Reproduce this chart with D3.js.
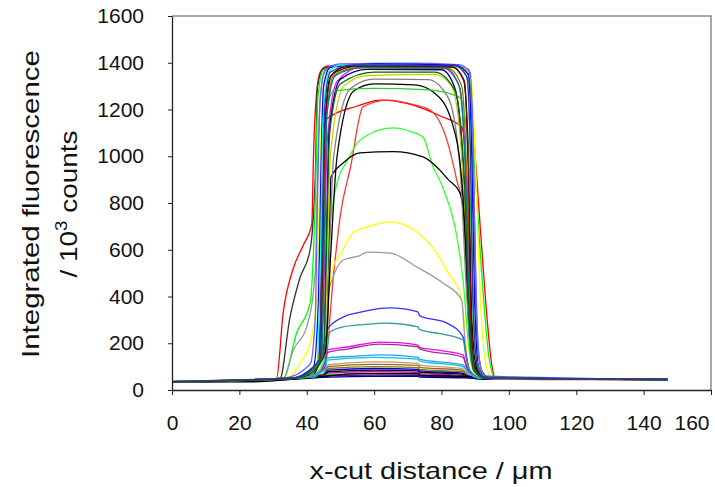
<!DOCTYPE html>
<html>
<head>
<meta charset="utf-8">
<script src="https://cdn.jsdelivr.net/npm/d3@7"></script>
<style>
	body { margin: 0; background: #fff; }
	svg { display: block; font-family: "Liberation Sans", Arial, sans-serif; }
</style>
</head>
<body>
<main></main>
<script>
// tick labels
const xTicks = [0, 20, 40, 60, 80, 100, 120, 140, 160];
const yTicks = [0, 200, 400, 600, 800, 1000, 1200, 1400, 1600];

// profiles: [x-cut distance (um), fluorescence (10^3 counts)]
// low profiles
const low01 = [[0,35],[20,37],[30,46],[40,58],[45,70],[46.5,108],[60,120],[73,114],[73.5,106],[86,92],[88,64],[92,48],[147,45]];
const low02 = [[0,36],[20,38],[30,47],[40,57],[45,68],[46.5,100],[60,110],[73,105],[73.5,97],[86,85],[88,62],[92,48],[147,46]];
const low03 = [[0,35],[20,36],[30,46],[40,56],[45,66],[46.5,92],[60,100],[73,96],[73.5,88],[86,78],[88,60],[92,48],[147,45]];
const low04 = [[0,36],[30,46],[40,55],[45,64],[46.5,85],[60,92],[73,88],[73.5,82],[86,72],[88,58],[92,48],[147,45]];
const low05 = [[0,35],[30,45],[40,54],[45,62],[46.5,78],[60,85],[73,82],[73.5,76],[86,68],[88,56],[92,47],[147,45]];
const low06 = [[0,36],[30,45],[40,53],[45,60],[46.5,72],[60,78],[73,75],[73.5,70],[86,63],[88,55],[92,47],[147,46]];
const low07 = [[0,35],[30,44],[40,52],[45,58],[46.5,65],[60,70],[73,68],[73.5,64],[86,58],[88,52],[92,47],[147,45]];
const low08 = [[0,36],[30,44],[40,51],[45,56],[47,60],[60,64],[73,63],[73.5,59],[86,55],[90,50],[147,45]];
const low09 = [[0,35],[28,40],[40,50],[47,55],[60,58],[73,58],[73.5,55],[88,52],[92,47],[147,45]];
const low10 = [[0,35],[24,35],[40,52],[56,70],[73,70],[73.5,64],[88,58],[93,48],[147,45]];

// middle profiles
const mid01 = [[0,36],[20,44],[38,52],[43.5,120],[44,300],[44.5,1100],[46,1160],[55,1215],[62,1240],[70,1225],[80,1170],[86,1125],[87.5,900],[88.5,400],[89.5,120],[93,50],[147,45]];
const mid02 = [[0,36],[40,55],[46,200],[48,500],[50,750],[53,954],[56.7,1211],[63.8,1240],[72,1220],[76.6,1198],[81.6,1070],[84.5,900],[86.5,760],[88,400],[89,120],[93,50],[147,45]];
const mid03 = [[0,36],[41,55],[45.8,150],[46.5,640],[49,885],[52,980],[55,1056],[58,1090],[65.6,1121],[71,1105],[74.5,1082],[77.5,954],[80,880],[86.4,470],[88,200],[89.5,80],[93,50],[147,45]];
const mid04 = [[0,35],[41,55],[46,250],[46.8,700],[47.2,911],[50.8,971],[55.8,1014],[65.6,1020],[74.5,997],[78.6,954],[82,900],[85.5,843],[87,700],[88,350],[89.5,100],[93,50],[147,45]];
const mid05 = [[0,35],[42,56],[46,150],[46.5,400],[47.8,526],[50,580],[53.7,672],[57.9,697],[64.7,718],[68,712],[72.7,676],[78.6,586],[82,500],[85.5,415],[86.4,342],[87.5,150],[89,70],[93,50],[147,46]];
const mid06 = [[0,36],[42,56],[46,150],[46.5,420],[47.5,470],[50.8,556],[55.8,575],[57.9,590],[64.7,586],[72.7,526],[80.4,458],[86,385],[87,200],[88,90],[92,50],[147,45]];
const mid07 = [[0,35],[42,56],[45.5,120],[46,257],[50.8,312],[55,330],[58.8,342],[64.7,351],[73,334],[73.5,318],[81.6,286],[86.4,227],[87.3,150],[88.5,80],[92,50],[147,45]];
const mid08 = [[0,36],[42,56],[45.5,110],[46.9,248],[50.8,270],[57,280],[63.8,286],[73,270],[73.5,258],[80,240],[86.4,214],[87.3,140],[88.5,75],[92,50],[147,45]];
const mid09 = [[0,35],[40,56],[45.5,100],[46,171],[52,184],[61.7,205],[67,203],[73,192],[73.5,182],[80,168],[86.4,150],[87.5,100],[89,65],[92,50],[147,45]];
const mid10 = [[0,36],[40,55],[45.5,95],[46,160],[52,175],[61.7,196],[73,185],[73.5,176],[86.4,140],[87.5,95],[89,62],[92,50],[147,45]];
const mid11 = [[0,35],[38,52],[45.5,90],[46,137],[55,145],[61.7,150],[73,140],[73.5,132],[86.4,107],[88,75],[92,50],[147,45]];
const mid12 = [[0,36],[38,52],[45.5,85],[46,128],[60,140],[73,132],[73.5,125],[86.4,100],[88,72],[92,50],[147,45]];

// plateau profiles
const top01 = [[0,35],[20,42],[31,46],[33,330],[36,520],[39,620],[41.5,710],[42,1000],[42.8,1250],[44,1360],[46,1385],[60,1392],[80,1388],[88,1370],[89.5,1100],[91,800],[93,400],[95,100],[96,50],[110,45],[147,45]];
const top02 = [[0,36],[20,40],[32,46],[35,310],[38,480],[41,600],[42.5,900],[43.2,1300],[45,1375],[50,1390],[80,1385],[88,1372],[89,1250],[89.8,700],[90.5,250],[92,80],[95,48],[147,45]];
const top03 = [[0,36],[33,48],[37,244],[41,372],[42.5,800],[43.3,1250],[45,1370],[50,1385],[85,1380],[88.5,1300],[89.4,1056],[91,700],[93,300],[94,150],[96,50],[147,45]];
const top04 = [[0,36],[33,48],[36,171],[40,270],[42.5,500],[43.5,1100],[45,1350],[48,1385],[86,1380],[88.5,1320],[89.5,900],[90.5,300],[92,70],[96,47],[147,45]];
const top05 = [[0,35],[34,48],[38,115],[41,201],[43,400],[44,1000],[45.5,1340],[48,1380],[87,1375],[89,1300],[90,1000],[91.5,400],[93,120],[95,50],[147,46]];
const top06 = [[0,36],[33,50],[41,110],[42.5,300],[43.3,900],[44,1250],[45.5,1370],[50,1395],[70,1398],[85,1392],[88.5,1360],[89.3,1100],[90,600],[91,150],[93,60],[147,45]];
const top07 = [[0,35],[35,50],[42,100],[43.5,400],[44.3,1000],[45,1300],[47,1380],[60,1395],[84,1390],[88,1350],[89,1000],[89.8,400],[91,100],[93,55],[147,45]];
const top08 = [[0,36],[36,50],[43,110],[44,500],[44.8,1150],[46.5,1360],[50,1390],[84,1385],[87.5,1340],[88.5,1050],[89.3,400],[90.5,100],[93,50],[147,45]];
const top09 = [[0,35],[36,50],[43.5,120],[44.5,500],[45.3,1100],[47,1340],[52,1385],[83,1382],[86.5,1330],[88,1000],[89,300],[90.5,90],[93,50],[147,45]];
const top10 = [[0,36],[37,50],[44,130],[45,600],[45.8,1150],[48,1345],[55,1378],[82,1375],[86,1300],[87.5,900],[88.5,300],[90,90],[93,50],[147,45]];
const top11 = [[0,35],[37,52],[44,120],[45.2,500],[46,1050],[49,1320],[56,1380],[80,1380],[85,1310],[87,1000],[88.3,400],[89.5,100],[93,50],[147,45]];
const top12 = [[0,36],[38,55],[45,140],[45.8,600],[46.6,1100],[50,1330],[58,1372],[80,1370],[84,1290],[86.5,900],[88,300],[89.5,90],[93,50],[147,45]];
const top13 = [[0,35],[38,55],[45,150],[46,500],[47,1000],[51,1300],[58,1345],[78,1350],[83,1300],[86,1000],[88,400],[89.3,100],[93,50],[147,45]];
const top14 = [[0,36],[39,55],[45.5,150],[46.5,500],[48,1000],[53,1290],[60,1330],[76,1328],[82,1250],[85.5,950],[87.5,400],[89,110],[93,50],[147,45]];
const top15 = [[0,35],[39,55],[45.5,160],[47,550],[49,1000],[54,1280],[60,1310],[72,1305],[78,1270],[83,1150],[86,900],[88,400],[89.5,110],[93,50],[147,45]];
const top16 = [[0,36],[40,55],[44,160],[44.5,500],[45,900],[46,1200],[48,1280],[60,1290],[75,1285],[82,1270],[85.5,1250],[87.5,1100],[89,600],[90,150],[93,50],[147,45]];
const top17 = [[0,35],[36,50],[44,130],[44.8,600],[45.5,1150],[47.5,1350],[55,1385],[83,1383],[86.8,1320],[88,900],[88.8,300],[90,90],[93,50],[147,45]];
const top18 = [[0,36],[37,52],[44.5,140],[45.3,700],[46,1180],[48.5,1345],[57,1380],[81,1378],[85.5,1290],[87.3,850],[88.5,250],[90,80],[93,50],[147,45]];
const top19 = [[0,35],[38,53],[45,140],[45.9,650],[46.8,1100],[50,1310],[60,1360],[78,1360],[84,1280],[86.8,900],[88.2,300],[89.7,80],[93,50],[147,45]];
const top20 = [[0,36],[36,51],[43.8,130],[44.6,650],[45.3,1200],[47,1360],[54,1390],[84,1388],[87.5,1340],[88.6,1000],[89.4,350],[90.8,90],[93,50],[147,45]];

const profiles = [
	low01, low02, low03, low04, low05, low06, low07, low08, low09, low10,
	mid01, mid02, mid03, mid04, mid05, mid06, mid07, mid08, mid09, mid10, mid11, mid12,
	top01, top02, top03, top04, top05, top06, top07, top08, top09, top10,
	top11, top12, top13, top14, top15, top16, top17, top18, top19, top20
];

const lineColors = [
	"#CC9966", "#996633", "#808000", "#0000CC", "#000000", "#CC00CC", "#00CC00", "#660099", "#000080", "#000000",
	"#FF0000", "#FF3333", "#33FF33", "#000000", "#FFFF00", "#999999", "#3333FF", "#339999", "#FF00FF", "#993399", "#3399FF", "#00CCCC",
	"#FF0000", "#333333", "#00FF00", "#969696", "#FFFF00", "#6666FF", "#0000FF", "#00FFFF", "#000000", "#808000",
	"#FF00FF", "#000080", "#CCCC00", "#808080", "#000000", "#33CC33", "#800000", "#008080", "#006400", "#333399"
];

let drawChart = (width=715, height=487) => {
	const w = width;
	const h = height;
	const margin = ({top: 16, right: 4, bottom: 97, left: 172});

	let xScale = d3.scaleLinear()
					.domain([0, 160])
					.range([margin.left, w - margin.right]);

	let yScale = d3.scaleLinear()
					.domain([0, 1600])
					.range([h - margin.bottom, margin.top]);

	let svg = d3.select("main")
			.append("svg")
			.attr("width", w)
			.attr("height", h);

	// frame on top and right
	svg.append("path")
		.attr("d", `M${margin.left},${margin.top}H${w - margin.right}V${h - margin.bottom}`)
		.attr("fill", "none")
		.attr("stroke", "#8c8c8c")
		.attr("stroke-width", 1.5);

	let line = d3.line()
		.x(d => xScale(d[0]))
		.y(d => yScale(d[1]))
		.curve(d3.curveMonotoneX);

	svg.append("g")
		.selectAll("path")
		.data(profiles)
		.join("path")
			.attr("d", line)
			.attr("fill", "none")
			.attr("stroke", (d, i) => lineColors[i])
			.attr("stroke-width", 1.3)
			.attr("stroke-linejoin", "round");

	let xAxis = g => { g
		.attr("transform", `translate(0,${h - margin.bottom})`)
		.call(d3.axisBottom(xScale).tickValues(xTicks).tickFormat(d3.format("d")).tickSize(5).tickSizeOuter(0))
		.call(g => g.select(".domain").attr("stroke", "#222").attr("stroke-width", 1.3))
		.call(g => g.selectAll(".tick line").attr("stroke", "#222"))
		.call(g => g.selectAll(".tick text")
			.attr("y", 25)
			.attr("dy", "0.71em")
			.attr("font-size", 21)
			.attr("fill", "#111"))
		.call(g => g.select(".tick:last-of-type text")
			.attr("text-anchor", "end")
			.attr("x", -2))
	};

	let yAxis = g => { g
		.attr("transform", `translate(${margin.left},0)`)
		.call(d3.axisLeft(yScale).tickValues(yTicks).tickFormat(d3.format("d")).tickSize(4).tickPadding(24).tickSizeOuter(0))
		.call(g => g.select(".domain").attr("stroke", "#222").attr("stroke-width", 1.3))
		.call(g => g.selectAll(".tick line").attr("stroke", "#222"))
		.call(g => g.selectAll(".tick text")
			.attr("font-size", 21)
			.attr("fill", "#111"))
	};

	svg.append("g").call(xAxis);
	svg.append("g").call(yAxis);

	// axis titles
	svg.append("text")
		.attr("x", 431)
		.attr("y", 479)
		.attr("text-anchor", "middle")
		.attr("font-size", 24)
		.attr("fill", "#111")
		.attr("textLength", 243)
		.attr("lengthAdjust", "spacingAndGlyphs")
		.text("x-cut distance / μm");

	svg.append("text")
		.attr("transform", "translate(39,204) rotate(-90)")
		.attr("text-anchor", "middle")
		.attr("font-size", 24)
		.attr("fill", "#111")
		.attr("textLength", 308)
		.attr("lengthAdjust", "spacingAndGlyphs")
		.text("Integrated fluorescence");

	let t2 = svg.append("text")
		.attr("transform", "translate(77,204) rotate(-90)")
		.attr("text-anchor", "middle")
		.attr("font-size", 24)
		.attr("fill", "#111")
		.attr("textLength", 147)
		.attr("lengthAdjust", "spacingAndGlyphs");
	t2.append("tspan").text("/ 10");
	t2.append("tspan").attr("dy", -10).attr("font-size", 16).text("3");
	t2.append("tspan").attr("dy", 10).text(" counts");
};

drawChart();
</script>
</body>
</html>
